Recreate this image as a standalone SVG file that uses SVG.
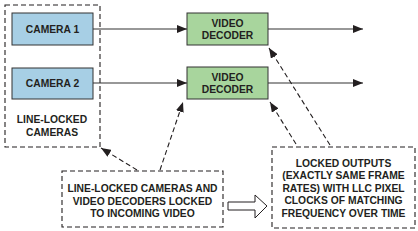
<svg xmlns="http://www.w3.org/2000/svg" width="418" height="231" viewBox="0 0 418 231">
<style>
text{font-family:"Liberation Sans",Arial,sans-serif;font-weight:bold;font-size:10.3px;fill:#231f20;text-anchor:middle}
.cam{fill:#a7cfe5;stroke:#333;stroke-width:1}
.dec{fill:#a8d59d;stroke:#333;stroke-width:1}
.dash{fill:none;stroke:#231f20;stroke-width:1.1;stroke-dasharray:5,3}
.line{fill:none;stroke:#333;stroke-width:1.1}
</style>
<defs>
<marker id="ah" markerWidth="10" markerHeight="8" refX="10" refY="4" orient="auto" markerUnits="userSpaceOnUse">
<path d="M0,0 L10,4 L0,8 z" fill="#231f20"/>
</marker>
</defs>
<g id="cameras-group">
<rect class="dash" x="5" y="5" width="95" height="142"/>
<text x="52" y="123">LINE-LOCKED</text>
<text x="52" y="136">CAMERAS</text>
</g>
<g id="camera1">
<rect class="cam" x="12" y="13" width="81" height="32"/>
<text x="52.5" y="33">CAMERA 1</text>
</g>
<g id="camera2">
<rect class="cam" x="12" y="68" width="81" height="31"/>
<text x="52.5" y="87">CAMERA 2</text>
</g>
<g id="decoder1">
<rect class="dec" x="187" y="13" width="81" height="32"/>
<text x="227.5" y="27">VIDEO</text>
<text x="227.5" y="39">DECODER</text>
</g>
<g id="decoder2">
<rect class="dec" x="187" y="67" width="81" height="32"/>
<text x="227.5" y="81">VIDEO</text>
<text x="227.5" y="93">DECODER</text>
</g>
<g id="note-left">
<rect class="dash" x="62" y="171" width="161" height="56"/>
<text x="142.5" y="192">LINE-LOCKED CAMERAS AND</text>
<text x="142.5" y="205">VIDEO DECODERS LOCKED</text>
<text x="142.5" y="217">TO INCOMING VIDEO</text>
</g>
<g id="note-right">
<rect class="dash" x="272" y="147" width="143" height="81"/>
<text x="343.5" y="167">LOCKED OUTPUTS</text>
<text x="343.5" y="179">(EXACTLY SAME FRAME</text>
<text x="343.5" y="192">RATES) WITH LLC PIXEL</text>
<text x="343.5" y="204">CLOCKS OF MATCHING</text>
<text x="343.5" y="217">FREQUENCY OVER TIME</text>
</g>
<g id="connectors">
<line class="line" x1="93" y1="29" x2="187" y2="29" marker-end="url(#ah)"/>
<line class="line" x1="93" y1="83" x2="187" y2="83" marker-end="url(#ah)"/>
<line class="line" x1="268" y1="29" x2="363" y2="29" marker-end="url(#ah)"/>
<line class="line" x1="268" y1="83" x2="363" y2="83" marker-end="url(#ah)"/>
<line class="dash" x1="330" y1="145" x2="269" y2="48" marker-end="url(#ah)"/>
<line class="dash" x1="296" y1="144" x2="270" y2="102" marker-end="url(#ah)"/>
<line class="dash" x1="160" y1="170" x2="183" y2="102" marker-end="url(#ah)"/>
<line class="dash" x1="137" y1="170" x2="101" y2="148" marker-end="url(#ah)"/>
<path d="M228,202 L255,202 L255,195 L267,206 L255,218 L255,210 L228,210 Z" fill="#fff" stroke="#231f20" stroke-width="1"/>
</g>
</svg>
